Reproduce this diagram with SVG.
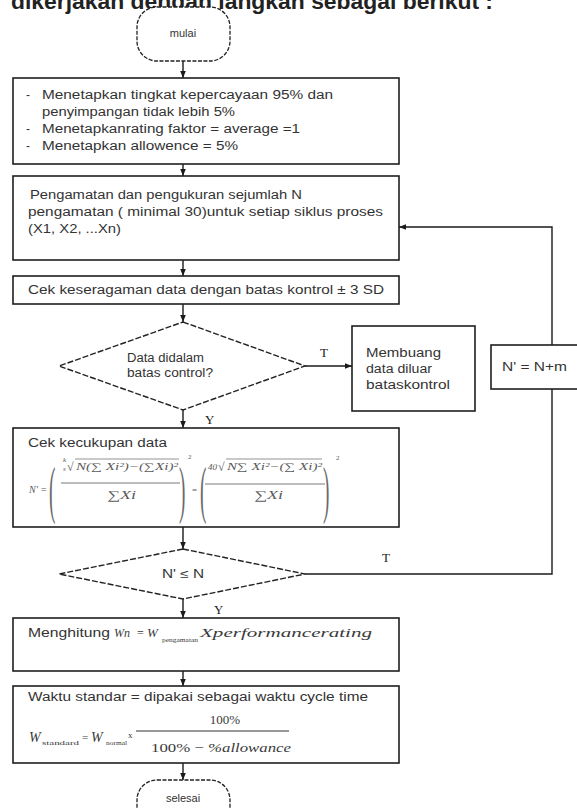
<svg xmlns="http://www.w3.org/2000/svg" width="577" height="808" viewBox="0 0 577 808">
  <defs>
    <marker id="arrow" viewBox="0 0 10 10" refX="10" refY="5" markerWidth="7" markerHeight="7" orient="auto" markerUnits="userSpaceOnUse">
      <path d="M0,1 L10,5 L0,9 z" fill="#1a1a1a"/>
    </marker>
  </defs>
  <style>
    .box{fill:#fff;stroke:#1e1e1e;stroke-width:1.6}
    .dec{fill:#fff;stroke:#222;stroke-width:1.4;stroke-dasharray:6 2}
    .term{fill:#fff;stroke:#222;stroke-width:1.3;stroke-dasharray:4 1.5}
    .conn{fill:none;stroke:#1a1a1a;stroke-width:1.4}
    .t{font-family:"Liberation Sans",Arial,sans-serif;font-size:12px;fill:#333}
    .m{font-family:"Liberation Serif","Times New Roman",serif;font-style:italic;fill:#3a3a3a}
    .r{font-family:"Liberation Serif","Times New Roman",serif;fill:#3a3a3a}
    .lbl{font-family:"Liberation Serif","Times New Roman",serif;font-size:13px;fill:#222}
    .c{text-anchor:middle}
  </style>
  <rect width="577" height="808" fill="#fff"/>

  <!-- heading line above the chart, partly outside the top edge -->
  <text class="t" x="11" y="9" style="font-size:22px;font-weight:bold;fill:#222" textLength="482" lengthAdjust="spacingAndGlyphs">dikerjakan dengan langkah sebagai berikut :</text>

  <!-- connectors -->
  <g id="connectors">
    <path class="conn" d="M183,61 V78" marker-end="url(#arrow)"/>
    <path class="conn" d="M183,164 V176" marker-end="url(#arrow)"/>
    <path class="conn" d="M183,260 V276" marker-end="url(#arrow)"/>
    <path class="conn" d="M183,304 V322" marker-end="url(#arrow)"/>
    <path class="conn" d="M305,366 H352" marker-end="url(#arrow)"/>
    <path class="conn" d="M183,410 V428" marker-end="url(#arrow)"/>
    <path class="conn" d="M183,527 V549" marker-end="url(#arrow)"/>
    <path class="conn" d="M183,599 V618" marker-end="url(#arrow)"/>
    <path class="conn" d="M183,671 V686" marker-end="url(#arrow)"/>
    <path class="conn" d="M183,763 V780" marker-end="url(#arrow)"/>
    <path class="conn" d="M305,574 H552 V227 H399" marker-end="url(#arrow)"/>
    <text class="lbl" x="320" y="357">T</text>
    <text class="lbl" x="205" y="424">Y</text>
    <text class="lbl" x="382" y="562">T</text>
    <text class="lbl" x="214" y="614">Y</text>
  </g>

  <g id="start">
    <rect class="term" x="137" y="7" width="93" height="54" rx="20"/>
    <text class="t c" x="183" y="37" style="font-size:11px">mulai</text>
  </g>

  <g id="setup">
    <rect class="box" x="13" y="78" width="386" height="86"/>
    <text class="t" x="26" y="99">-</text>
    <text class="t" x="42" y="99" textLength="291" lengthAdjust="spacingAndGlyphs">Menetapkan tingkat kepercayaan 95% dan</text>
    <text class="t" x="42" y="116" textLength="193" lengthAdjust="spacingAndGlyphs">penyimpangan tidak lebih 5%</text>
    <text class="t" x="26" y="133">-</text>
    <text class="t" x="42" y="133" textLength="258" lengthAdjust="spacingAndGlyphs">Menetapkanrating faktor = average =1</text>
    <text class="t" x="26" y="150">-</text>
    <text class="t" x="42" y="150" textLength="196" lengthAdjust="spacingAndGlyphs">Menetapkan allowence = 5%</text>
  </g>

  <g id="observe">
    <rect class="box" x="13" y="176" width="386" height="84"/>
    <text class="t" x="30" y="199" textLength="272" lengthAdjust="spacingAndGlyphs">Pengamatan dan pengukuran sejumlah N</text>
    <text class="t" x="28" y="216" textLength="355" lengthAdjust="spacingAndGlyphs">pengamatan ( minimal 30)untuk setiap siklus proses</text>
    <text class="t" x="28" y="233" textLength="93" lengthAdjust="spacingAndGlyphs">(X1, X2, ...Xn)</text>
  </g>

  <g id="uniformity">
    <rect class="box" x="13" y="276" width="386" height="28"/>
    <text class="t" x="28" y="294" textLength="356" lengthAdjust="spacingAndGlyphs">Cek keseragaman data dengan batas kontrol ± 3 SD</text>
  </g>

  <g id="in-control">
    <path class="dec" d="M183,322 L305,366 L183,410 L59,366 Z"/>
    <text class="t" x="127" y="362" textLength="77" lengthAdjust="spacingAndGlyphs">Data didalam</text>
    <text class="t" x="127" y="377" textLength="86" lengthAdjust="spacingAndGlyphs">batas control?</text>
  </g>

  <g id="discard">
    <rect class="box" x="352" y="326" width="123" height="85"/>
    <text class="t" x="366" y="357" textLength="75" lengthAdjust="spacingAndGlyphs">Membuang</text>
    <text class="t" x="366" y="373" textLength="66" lengthAdjust="spacingAndGlyphs">data diluar</text>
    <text class="t" x="366" y="389" textLength="84" lengthAdjust="spacingAndGlyphs">bataskontrol</text>
  </g>

  <g id="add-samples">
    <rect class="box" x="491" y="345" width="130" height="44"/>
    <text class="t" x="502" y="371" textLength="65" lengthAdjust="spacingAndGlyphs">N' = N+m</text>
  </g>

  <g id="adequacy">
    <rect class="box" x="13" y="428" width="386" height="99"/>
    <text class="t" x="28" y="447" textLength="139" lengthAdjust="spacingAndGlyphs">Cek kecukupan data</text>
    <!-- sample-size formula -->
    <g>
      <text class="m" x="29" y="493" style="font-size:10px;fill:#5a5a5a">N' =</text>
      <text class="r" x="0" y="0" style="font-size:64px;fill:#6a6a6a" transform="translate(49,511) scale(0.3,1)">(</text>
      <text class="m" x="63" y="462" style="font-size:7px;fill:#5a5a5a">k</text>
      <text class="m" x="63" y="471" style="font-size:7px;fill:#5a5a5a">s</text>
      <text class="r" x="67" y="471" style="font-size:12px;fill:#5a5a5a">√</text>
      <line x1="75" y1="459" x2="179" y2="459" stroke="#666" stroke-width="0.7"/>
      <text class="m" x="76" y="470" style="font-size:10px;fill:#5a5a5a" textLength="102" lengthAdjust="spacingAndGlyphs">N(∑ Xi²)−(∑Xi)²</text>
      <line x1="61" y1="483" x2="180" y2="483" stroke="#555" stroke-width="0.8"/>
      <text class="m" x="107" y="499" style="font-size:12px;fill:#5a5a5a" textLength="29" lengthAdjust="spacingAndGlyphs">∑Xi</text>
      <text class="r" x="0" y="0" style="font-size:64px;fill:#6a6a6a" transform="translate(179,511) scale(0.3,1)">)</text>
      <text class="r" x="188" y="459" style="font-size:7px;fill:#5a5a5a">2</text>
      <text class="r" x="192" y="493" style="font-size:9px;fill:#5a5a5a">=</text>
      <text class="r" x="0" y="0" style="font-size:64px;fill:#6a6a6a" transform="translate(200,511) scale(0.3,1)">(</text>
      <text class="m" x="208" y="470" style="font-size:9px;fill:#5a5a5a">40</text>
      <text class="r" x="218" y="471" style="font-size:12px;fill:#5a5a5a">√</text>
      <line x1="226" y1="459" x2="322" y2="459" stroke="#666" stroke-width="0.7"/>
      <text class="m" x="227" y="470" style="font-size:10px;fill:#5a5a5a" textLength="95" lengthAdjust="spacingAndGlyphs">N∑ Xi²−(∑ Xi)²</text>
      <line x1="205" y1="484" x2="325" y2="484" stroke="#555" stroke-width="0.8"/>
      <text class="m" x="254" y="499" style="font-size:12px;fill:#5a5a5a" textLength="29" lengthAdjust="spacingAndGlyphs">∑Xi</text>
      <text class="r" x="0" y="0" style="font-size:64px;fill:#6a6a6a" transform="translate(323,511) scale(0.3,1)">)</text>
      <text class="r" x="336" y="460" style="font-size:7px;fill:#5a5a5a">2</text>
    </g>
  </g>

  <g id="enough">
    <path class="dec" d="M183,549 L305,574 L183,599 L59,574 Z"/>
    <text class="t c" x="183" y="578" textLength="42" lengthAdjust="spacingAndGlyphs">N' ≤ N</text>
  </g>

  <g id="normal-time">
    <rect class="box" x="13" y="618" width="386" height="53"/>
    <text class="t" x="28" y="637" textLength="82" lengthAdjust="spacingAndGlyphs">Menghitung</text>
    <text class="m" x="114" y="637" style="font-size:12px">Wn</text>
    <text class="r" x="137" y="637" style="font-size:12px">=</text>
    <text class="m" x="147" y="637" style="font-size:13px">W</text>
    <text class="r" x="162" y="642" style="font-size:6px" textLength="36" lengthAdjust="spacingAndGlyphs">pengamatan</text>
    <text class="m" x="200" y="637" style="font-size:12px" textLength="172" lengthAdjust="spacingAndGlyphs">Xperformancerating</text>
  </g>

  <g id="standard-time">
    <rect class="box" x="13" y="686" width="386" height="77"/>
    <text class="t" x="28" y="701" textLength="340" lengthAdjust="spacingAndGlyphs">Waktu standar = dipakai sebagai waktu cycle time</text>
    <text class="m" x="29" y="742" style="font-size:14px">W</text>
    <text class="r" x="42" y="745" style="font-size:6px" textLength="37" lengthAdjust="spacingAndGlyphs">standard</text>
    <text class="r" x="82" y="741" style="font-size:11px">=</text>
    <text class="m" x="91" y="742" style="font-size:14px">W</text>
    <text class="r" x="106" y="745" style="font-size:6px" textLength="21" lengthAdjust="spacingAndGlyphs">normal</text>
    <text class="r" x="128" y="738" style="font-size:9px">x</text>
    <text class="r c" x="225" y="724" style="font-size:13px">100%</text>
    <line x1="136" y1="731" x2="289" y2="731" stroke="#333" stroke-width="1"/>
    <text class="r" x="151" y="752" style="font-size:13px" textLength="140" lengthAdjust="spacingAndGlyphs">100% − <tspan class="m">%allowance</tspan></text>
  </g>

  <g id="end">
    <rect class="term" x="137" y="780" width="93" height="54" rx="20"/>
    <text class="t c" x="183" y="802" style="font-size:11px">selesai</text>
  </g>
</svg>
